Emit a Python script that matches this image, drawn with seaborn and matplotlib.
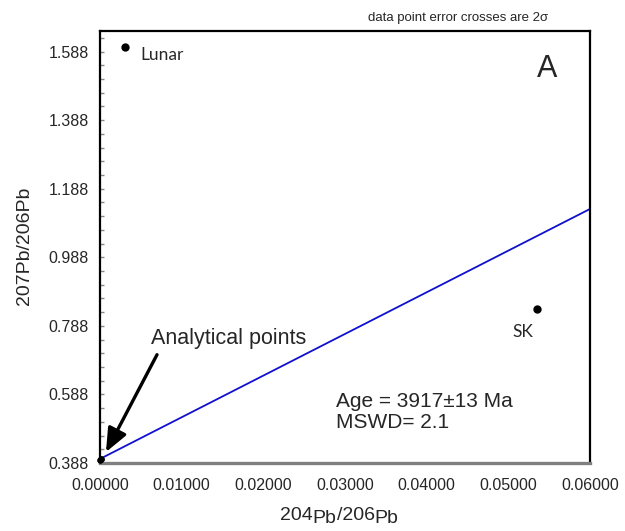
import numpy as np
import pandas as pd
import matplotlib
matplotlib.use("Agg")
import matplotlib.pyplot as plt
import seaborn as sns

# --- data -------------------------------------------------------------
sample_names = ["Lunar", "SK"]
sample_x = [0.0030, 0.0535]
sample_y = [1.600, 0.836]

analytical_x = [0.00002, 0.00005, 0.00008, 0.00011, 0.00014]
analytical_y = [0.396, 0.398, 0.399, 0.400, 0.401]

isochron_x = [0.0, 0.06]
isochron_y = [0.400, 1.129]

x_ticks = [0.0, 0.01, 0.02, 0.03, 0.04, 0.05, 0.06]
y_ticks = [0.388, 0.588, 0.788, 0.988, 1.188, 1.388, 1.588]
y_minor = list(np.round(np.arange(0.388, 1.65, 0.04), 3))

age_text = "Age = 3917±13 Ma"
mswd_text = "MSWD= 2.1"

# --- figure -----------------------------------------------------------
sns.set_style("white")
plt.rcParams["font.family"] = ["Liberation Sans", "DejaVu Sans"]

fig = plt.figure(figsize=(6.25, 5.31), dpi=100)
ax = fig.add_axes([0.16, 0.128, 0.784, 0.8136])

samples = pd.DataFrame({"x": sample_x, "y": sample_y, "name": sample_names})
analytical = pd.DataFrame({"x": analytical_x, "y": analytical_y})
isochron = pd.DataFrame({"x": isochron_x, "y": isochron_y})

sns.lineplot(data=isochron, x="x", y="y", ax=ax, color="#1010d0", lw=1.3)
sns.scatterplot(data=samples, x="x", y="y", ax=ax, color="black", s=36,
                edgecolor="black", linewidth=0, zorder=5)
sns.scatterplot(data=analytical, x="x", y="y", ax=ax, color="black", s=20,
                edgecolor="black", linewidth=0, zorder=5, clip_on=False)

ax.set_xlim(0, 0.06)
ax.set_ylim(0.388, 1.648)

ax.set_xticks(x_ticks)
ax.set_xticklabels([f"{v:.5f}" for v in x_ticks], fontsize=11.5)
ax.set_yticks(y_ticks)
ax.set_yticklabels([f"{v:.3f}" for v in y_ticks], fontsize=11.5)
ax.set_yticks(y_minor, minor=True)
ax.tick_params(axis="x", length=0, pad=11)
ax.tick_params(axis="y", which="both", direction="in", length=3, width=1,
               color="#888888", pad=8, left=True)
ax.set_xlabel("")
ax.set_ylabel("")

for side in ("left", "top", "right"):
    ax.spines[side].set_color("black")
    ax.spines[side].set_linewidth(1.6)
ax.spines["bottom"].set_color("#808080")
ax.spines["bottom"].set_linewidth(2.4)

# sample labels
ax.text(0.0049, 1.577, "Lunar", family="Lato", fontsize=12.5, va="center",
        ha="left")
ax.text(0.0518, 0.769, "SK", family="Lato", fontsize=12.5, va="center",
        ha="center")
ax.text(0.0547, 1.536, "A", fontsize=22, va="center", ha="center")

ax.text(0.0289, 0.5666, age_text, fontsize=15, va="center", ha="left")
ax.text(0.0289, 0.505, mswd_text, fontsize=15, va="center", ha="left")

ax.text(0.0157, 0.751, "Analytical points", fontsize=15.5, va="center",
        ha="center")
ax.annotate("", xy=(0.00073, 0.420), xytext=(0.00698, 0.704),
            arrowprops=dict(arrowstyle="-|>,head_length=1.3,head_width=0.55",
                            color="black", lw=2.4, mutation_scale=11,
                            shrinkA=0, shrinkB=0))

fig.text(458 / 625, 1 - 18 / 531, "data point error crosses are 2σ",
         fontsize=9.5, ha="center", va="center")

# axis titles
fig.text(25 / 625, 1 - 246 / 531, "207Pb/206Pb", rotation=90, fontsize=14,
         ha="center", va="center")
t1 = fig.text(280 / 625, 1 - 520 / 531, "204", fontsize=14, ha="left",
              va="baseline")
t2 = ax.annotate("Pb", xy=(1, 0), xycoords=t1, xytext=(0, -2.5),
                 textcoords="offset points", fontsize=14, ha="left",
                 va="bottom", annotation_clip=False)
t3 = ax.annotate("/206", xy=(1, 0), xycoords=t2, xytext=(0, 2.5),
                 textcoords="offset points", fontsize=14, ha="left",
                 va="bottom", annotation_clip=False)
ax.annotate("Pb", xy=(1, 0), xycoords=t3, xytext=(0, -2.5),
            textcoords="offset points", fontsize=14, ha="left", va="bottom",
            annotation_clip=False)

fig.savefig("out.png", dpi=100)
